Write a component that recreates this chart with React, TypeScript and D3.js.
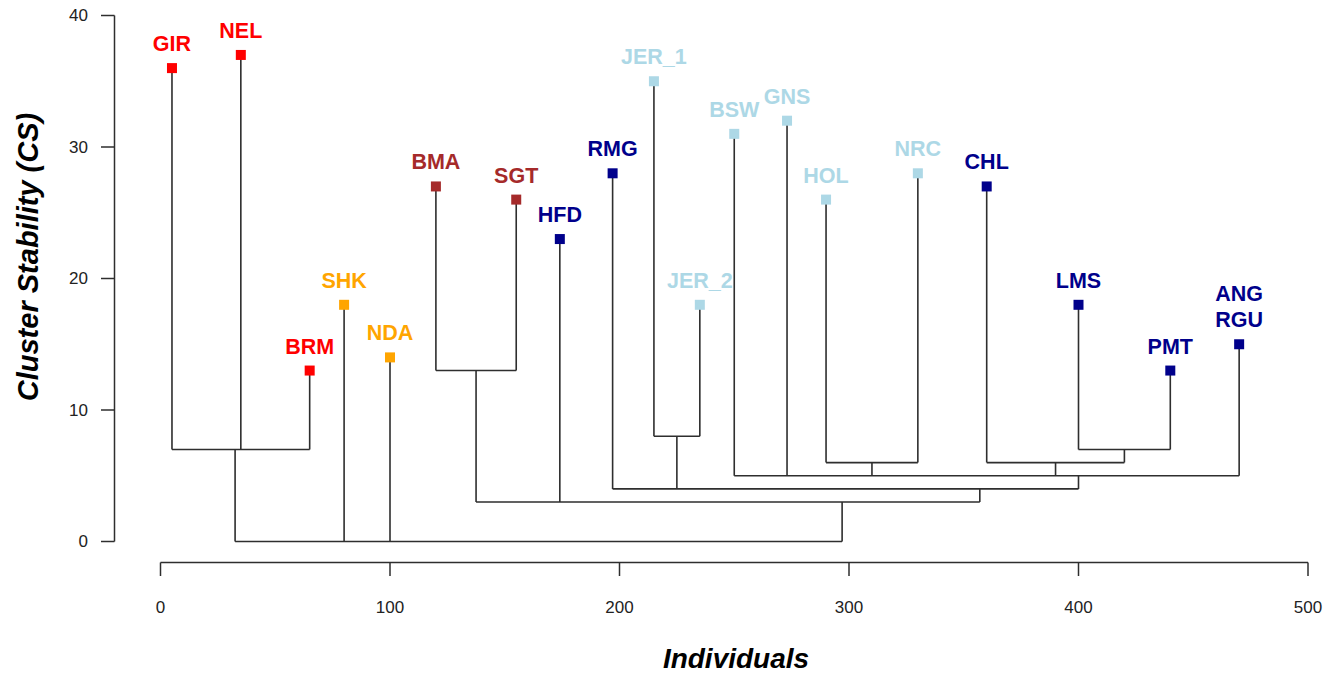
import * as d3 from 'd3';

// leaves (populations)
const leafNames = ['GIR', 'NEL', 'BRM', 'SHK', 'NDA', 'BMA', 'SGT', 'HFD', 'RMG', 'JER_1', 'JER_2', 'BSW', 'GNS', 'HOL', 'NRC', 'CHL', 'LMS', 'PMT', 'ANG\nRGU'];
const leafX = [5, 35, 65, 80, 100, 120, 155, 174, 197, 215, 235, 250, 273, 290, 330, 360, 400, 440, 470];
const leafCS = [36, 37, 13, 18, 14, 27, 26, 23, 28, 35, 18, 31, 32, 26, 28, 27, 18, 13, 15];
const leafGroup = ['red', 'red', 'red', 'orange', 'orange', 'brown', 'brown', 'navy', 'navy', 'light', 'light', 'light', 'light', 'light', 'light', 'navy', 'navy', 'navy', 'navy'];

// internal merges of the tree
const nodeIds = ['I', 'H', 'G', 'F', 'E', 'D', 'C', 'B', 'A', 'root'];
const nodeX = [420, 390, 310, 400, 225, 357, 137.5, 297, 32.5, 165];
const nodeCS = [7, 6, 6, 5, 8, 4, 13, 3, 7, 0];
const nodeChildren = [
    ['LMS', 'PMT'],
    ['CHL', 'I'],
    ['HOL', 'NRC'],
    ['BSW', 'GNS', 'G', 'H', 'ANG\nRGU'],
    ['JER_1', 'JER_2'],
    ['RMG', 'E', 'F'],
    ['BMA', 'SGT'],
    ['C', 'HFD', 'D'],
    ['GIR', 'NEL', 'BRM'],
    ['A', 'SHK', 'NDA', 'B'],
];

const xTicks = [0, 100, 200, 300, 400, 500];
const yTicks = [0, 10, 20, 30, 40];

const groupColor: Record<string, string> = {
    red: '#ff0000',
    orange: '#ffa500',
    brown: '#a52a2a',
    navy: '#00008b',
    light: '#add8e6',
};

const W = 1336;
const H = 674;
const font = '"Liberation Sans", Arial, Helvetica, sans-serif';
const ink = '#2e2e2e';

export default function App() {
    const x = d3.scaleLinear().domain([0, 500]).range([160.5, 1308]);
    const y = d3.scaleLinear().domain([0, 40]).range([541.5, 15.5]);

    const pos = new Map<string, { x: number; cs: number }>();
    leafNames.forEach((n, i) => pos.set(n, { x: leafX[i], cs: leafCS[i] }));
    nodeIds.forEach((n, i) => pos.set(n, { x: nodeX[i], cs: nodeCS[i] }));

    // one path per merge: horizontal bar + drops from each child
    const segs: string[] = [];
    nodeIds.forEach((id, i) => {
        const kids = nodeChildren[i].map(k => pos.get(k)!);
        const h = nodeCS[i];
        const xs = kids.map(k => k.x);
        const p = d3.path();
        p.moveTo(x(d3.min(xs)!), y(h));
        p.lineTo(x(d3.max(xs)!), y(h));
        kids.forEach(k => {
            p.moveTo(x(k.x), y(k.cs));
            p.lineTo(x(k.x), y(h));
        });
        segs.push(p.toString());
    });

    return (
        <svg width={W} height={H} style={{ position: 'absolute', left: 0, top: 0, background: '#fff' }} fontFamily={font}>
            {/* y axis */}
            <g>
                <line x1={114.5} x2={114.5} y1={y(0)} y2={y(40)} stroke={ink} strokeWidth={1.5} />
                {yTicks.map(t => (
                    <g key={t}>
                        <line x1={101} x2={114.5} y1={y(t)} y2={y(t)} stroke={ink} strokeWidth={1.5} />
                        <text x={88} y={y(t)} dy="0.35em" textAnchor="end" fontSize={17} fill="#222">{t}</text>
                    </g>
                ))}
            </g>
            {/* x axis */}
            <g>
                <line x1={x(0)} x2={x(500)} y1={562.5} y2={562.5} stroke={ink} strokeWidth={1.5} />
                {xTicks.map(t => (
                    <g key={t}>
                        <line x1={x(t)} x2={x(t)} y1={562.5} y2={576} stroke={ink} strokeWidth={1.5} />
                        <text x={x(t)} y={607} dy="0.35em" textAnchor="middle" fontSize={17} fill="#222">{t}</text>
                    </g>
                ))}
            </g>
            <text x={736} y={658} dy="0.35em" textAnchor="middle" fontSize={28} fontWeight="bold" fontStyle="italic" fill="#000">Individuals</text>
            <text transform="translate(28,257) rotate(-90)" dy="0.35em" textAnchor="middle" fontSize={29} fontWeight="bold" fontStyle="italic" fill="#000">Cluster Stability (CS)</text>

            {/* tree */}
            {segs.map((d, i) => (
                <path key={i} d={d} fill="none" stroke={ink} strokeWidth={1.6} />
            ))}

            {/* leaves */}
            {leafNames.map((n, i) => {
                const cx = x(leafX[i]);
                const cy = y(leafCS[i]);
                const c = groupColor[leafGroup[i]];
                const lines = n.split('\n');
                return (
                    <g key={n}>
                        <rect x={cx - 5} y={cy - 5} width={10} height={10} fill={c} />
                        {lines.map((l, j) => (
                            <text key={l} x={cx} y={cy - 17 - (lines.length - 1 - j) * 26} textAnchor="middle" fontSize={21.5} fontWeight="bold" fill={c}>{l}</text>
                        ))}
                    </g>
                );
            })}
        </svg>
    );
}
